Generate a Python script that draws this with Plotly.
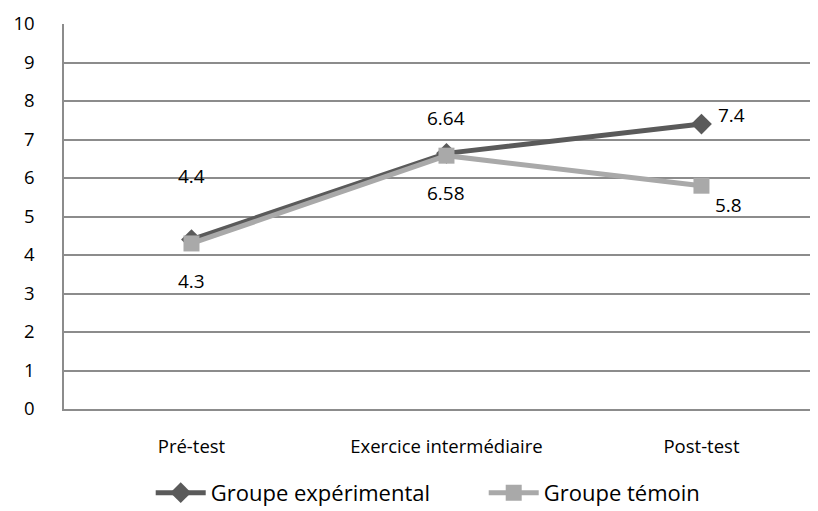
import plotly.graph_objects as go

categories = ["Pré-test", "Exercice intermédiaire", "Post-test"]
exp_vals = [4.4, 6.64, 7.4]
tem_vals = [4.3, 6.58, 5.8]
exp_name = "Groupe expérimental"
tem_name = "Groupe témoin"
y_ticks = list(range(0, 11))

FONT = "Open Sans"
fig = go.Figure()
fig.add_trace(go.Scatter(x=categories, y=exp_vals, name=exp_name, mode="lines+markers",
                         line=dict(color="#5a5a5a", width=5),
                         marker=dict(symbol="diamond", size=16, color="#5a5a5a")))
fig.add_trace(go.Scatter(x=categories, y=tem_vals, name=tem_name, mode="lines+markers",
                         line=dict(color="#a9a9a9", width=5),
                         marker=dict(symbol="square", size=16, color="#a9a9a9")))

# label offsets (px)
exp_off = [(0, 64), (0, 35), (30, 9)]
tem_off = [(0, -38), (0, -37), (27, -19)]
for c, v, (dx, dy) in zip(categories, exp_vals, exp_off):
    fig.add_annotation(x=c, y=v, text=f"{v:g}", showarrow=False, xshift=dx, yshift=dy,
                       font=dict(size=19, color="black", family=FONT))
for c, v, (dx, dy) in zip(categories, tem_vals, tem_off):
    fig.add_annotation(x=c, y=v, text=f"{v:g}", showarrow=False, xshift=dx, yshift=dy,
                       font=dict(size=19, color="black", family=FONT))

fig.update_layout(
    width=810, height=503,
    margin=dict(l=56, r=0, t=16, b=102),
    plot_bgcolor="white", paper_bgcolor="white",
    font=dict(family=FONT, size=18.5, color="black"),
    showlegend=True,
    legend=dict(orientation="h", x=0.115, xanchor="left",
                yref="container", y=0.036, yanchor="middle",
                font=dict(size=22), itemwidth=50, tracegroupgap=0,
                entrywidth=268, entrywidthmode="pixels"),
)
fig.update_xaxes(type="category", range=[-0.5, 2.457], showgrid=False, automargin=False,
                 showline=True, linecolor="#8c8c8c", linewidth=2, ticks="",
                 tickfont=dict(size=18.5), ticklabelstandoff=20)
fig.update_yaxes(range=[0, 10], tickvals=y_ticks, showgrid=True, gridcolor="#8c8c8c", gridwidth=1.5,
                 automargin=False,
                 showline=True, linecolor="#8c8c8c", linewidth=1.5, zeroline=False, ticks="",
                 tickfont=dict(size=18.5), ticklabelstandoff=24)

fig.write_html("out.html")
